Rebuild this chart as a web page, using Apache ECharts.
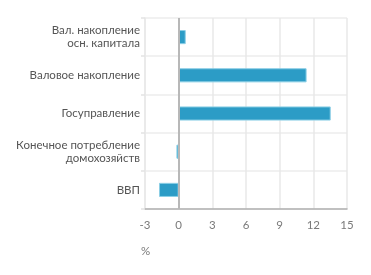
<!DOCTYPE html>
<html>
<head>
<meta charset="utf-8">
<script src="https://cdn.jsdelivr.net/npm/echarts@6/dist/echarts.min.js"></script>
<style>
  html, body { margin: 0; padding: 0; background: #fff; }
  #chart { width: 371px; height: 275px; }
</style>
</head>
<body>
<div id="chart"></div>
<script>
// categories, top to bottom
const categories = [
  "Вал. накопление\nосн. капитала",
  "Валовое накопление",
  "Госуправление",
  "Конечное потребление\nдомохозяйств",
  "ВВП"
];
const values = [0.63, 11.4, 13.55, -0.2, -1.75];
const xTicks = [-3, 0, 3, 6, 9, 12, 15];

const chart = echarts.init(document.getElementById("chart"));

chart.setOption({
  animation: false,
  textStyle: { fontFamily: "Lato, 'Open Sans', sans-serif" },
  grid: { left: 145, right: 24, top: 18, bottom: 66 },
  xAxis: {
    type: "value",
    min: xTicks[0],
    max: xTicks[xTicks.length - 1],
    interval: 3,
    axisLine: { show: true, lineStyle: { color: "#b0b0b0", width: 1.5 } },
    axisTick: { show: false },
    axisLabel: { color: "#7a7a7a", fontSize: 11.5, margin: 10 },
    splitLine: { show: true, lineStyle: { color: "#e8e8e8", width: 1.5 } }
  },
  yAxis: {
    type: "category",
    inverse: true,
    data: categories,
    axisLine: { show: true, onZero: false, lineStyle: { color: "#e8e8e8", width: 1.5 } },
    axisTick: { show: true, length: 4, lineStyle: { color: "#e3e3e3", width: 1.5 } },
    axisLabel: { color: "#555", fontSize: 11.5, lineHeight: 13, margin: 5, align: "right" },
    splitLine: { show: true, lineStyle: { color: "#ececec", width: 1.5 } }
  },
  series: [
    {
      type: "bar",
      data: values,
      barWidth: "37%",
      itemStyle: { color: "#2c9cc6", borderColor: "#8ccfe6", borderWidth: 1 },
      markLine: {
        silent: true,
        symbol: "none",
        label: { show: false },
        lineStyle: { color: "#b8b8b8", width: 2, type: "solid" },
        data: [{ xAxis: 0 }]
      }
    }
  ],
  graphic: [
    {
      type: "text",
      left: 141,
      top: 245,
      style: { text: "%", fill: "#7a7a7a", fontSize: 11.5, fontFamily: "Lato, sans-serif" }
    }
  ]
});
</script>
</body>
</html>
